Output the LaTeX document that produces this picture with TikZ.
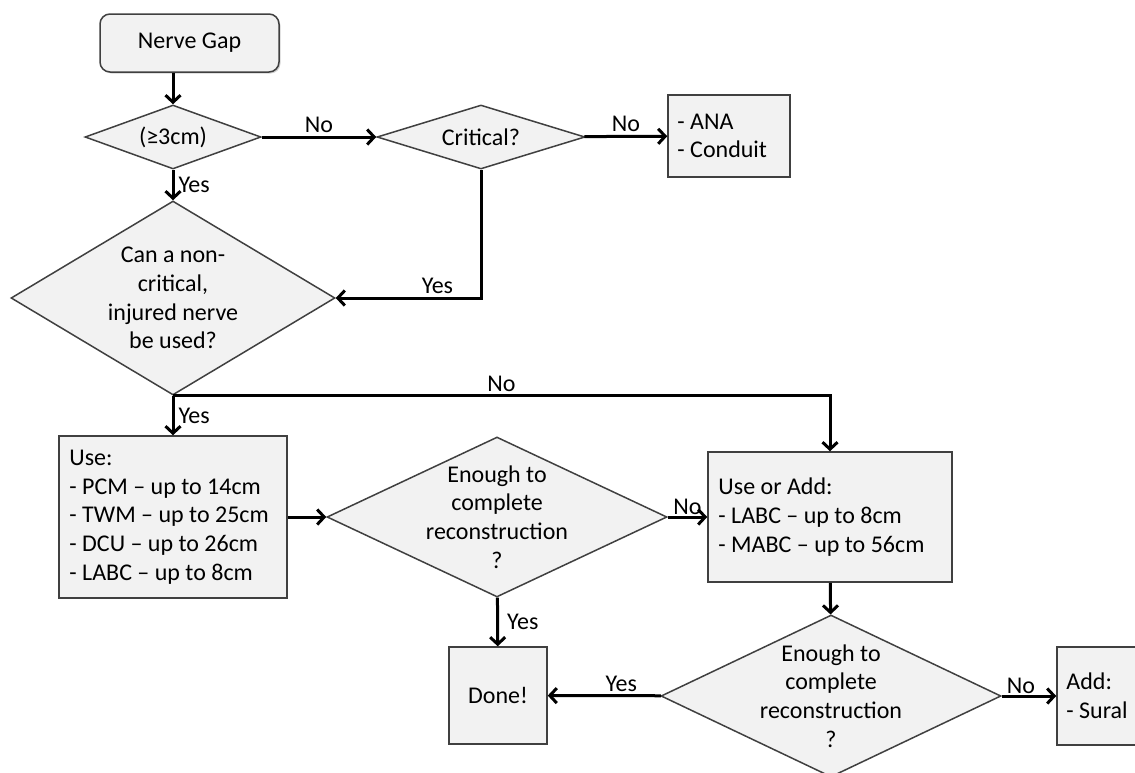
\documentclass[tikz,border=0pt]{standalone}
\usepackage{fontspec}
\setmainfont{Carlito}
\usetikzlibrary{shapes.geometric, arrows.meta, shadows}

\begin{document}
\begin{tikzpicture}[x=1pt, y=-1pt,
    every node/.style={font=\fontsize{24}{28.7}\selectfont},
    boxfill/.style={fill=black!5, draw=black!75, line width=1.5pt},
    startbox/.style={boxfill, rounded corners=10pt, minimum width=179pt,
      minimum height=58pt, inner sep=0pt,
      drop shadow={opacity=0.35, shadow xshift=1.5pt, shadow yshift=-1.5pt}},
    decision/.style={boxfill, diamond, inner sep=0pt},
    flow/.style={line width=3pt, -{Straight Barb[length=7pt, width=15pt, line width=3pt]}},
    tag/.style={inner sep=3pt}]

  % === frame of the picture ===
  \useasboundingbox (0,0) rectangle (1135,772);

  % === top row: gap length and criticality ===
  \node[startbox] (gap) at (189.5,43) {Nerve Gap};
  \node[decision, minimum width=176pt, minimum height=64pt,
    label=center:{(≥3cm)}] (len) at (173,137) {};
  \node[decision, minimum width=208pt, minimum height=64pt,
    label=center:{Critical?}] (crit) at (481,137) {};
  \node[boxfill, minimum width=122pt, minimum height=82pt] (ana) at (729,136) {};
  \node[anchor=west, align=left, inner sep=0pt] at (ana.west) [xshift=10pt]
    {- ANA\\- Conduit};

  % === donor nerve question ===
  \node[decision, minimum width=324pt, minimum height=194pt,
    label={[align=center]center:{Can a non-\\critical,\\injured nerve\\be used?}}]
    (canuse) at (173,298) {};

  % === first choice of donors ===
  \node[boxfill, minimum width=228pt, minimum height=162pt] (use) at (173,517) {};
  \node[anchor=west, align=left, inner sep=0pt] at (use.west) [xshift=11pt]
    {Use:\\- PCM – up to 14cm\\- TWM – up to 25cm\\- DCU – up to 26cm\\- LABC – up to 8cm};
  \node[decision, minimum width=340pt, minimum height=160pt,
    label={[align=center]center:{Enough to\\complete\\reconstruction\\?}}]
    (enough1) at (497,517) {};

  \node[boxfill, minimum width=244pt, minimum height=130pt] (useadd) at (830,517) {};
  \node[anchor=west, align=left, inner sep=0pt] at (useadd.west) [xshift=11pt]
    {Use or Add:\\- LABC – up to 8cm\\- MABC – up to 56cm};

  % === bottom row ===
  \node[boxfill, minimum width=98pt, minimum height=97pt] (done) at (498,695.5) {Done!};
  \node[decision, minimum width=340pt, minimum height=162pt,
    label={[align=center]center:{Enough to\\complete\\reconstruction\\?}}]
    (enough2) at (831,696) {};
  \node[boxfill, minimum width=120pt, minimum height=98pt] (add) at (1117,696) {};
  \node[anchor=west, align=left, inner sep=0pt] at (add.west) [xshift=10pt]
    {Add:\\- Sural};

  % === connectors ===
  \draw[flow] (gap.south -| len) -- (len);
  \draw[flow] (len) -- node[tag, above] {No} (crit);
  \draw[flow] (crit) -- node[tag, above] {No} (ana);
  \draw[flow] (len) -- node[tag, right, inner sep=4pt] {Yes} (canuse);
  \draw[flow] (crit.south) |- node[tag, above, pos=0.65] {Yes} (canuse.east);
  \draw[flow] (canuse) -- node[tag, right, inner sep=4pt] {Yes} (use);
  \draw[flow] (canuse.south) -| node[tag, above, pos=0.25] {No} (useadd.north);
  \draw[flow] (use) -- (enough1);
  \draw[flow] (enough1) -- node[tag, above, inner sep=1pt] {No} (useadd);
  \draw[flow] (enough1) -- node[tag, right, inner sep=8pt] {Yes} (done);
  \draw[flow] (useadd) -- (enough2);
  \draw[flow] (enough2) -- node[tag, above, pos=0.35] {Yes} (done);
  \draw[flow] (enough2) -- node[tag, above, pos=0.35, inner sep=1pt] {No} (add);

\end{tikzpicture}
\end{document}
